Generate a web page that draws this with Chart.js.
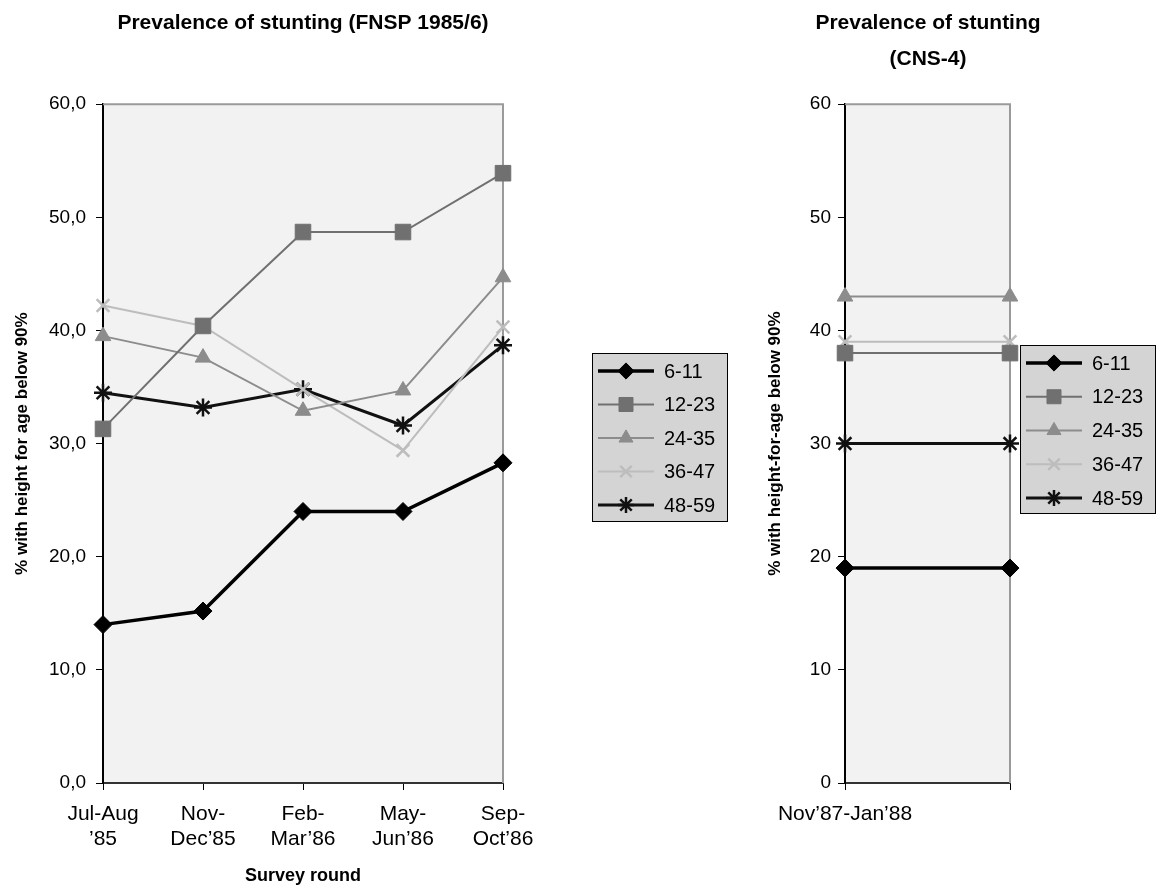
<!DOCTYPE html>
<html>
<head>
<meta charset="utf-8">
<script src="https://cdn.jsdelivr.net/npm/chart.js@4.4.1/dist/chart.umd.min.js"></script>
<style>
  body { margin: 0; background: #fff; }
  #wrap { position: relative; width: 1156px; height: 888px; }
  #leftChart { position: absolute; left: 0; top: 0; }
  #rightChart { position: absolute; left: 700px; top: 0; }
</style>
</head>
<body>
<div id="wrap">
  <canvas id="leftChart" width="740" height="888"></canvas>
  <canvas id="rightChart" width="456" height="888"></canvas>
</div>
<script>
// age groups (months)
const ageGroups = ['6-11', '12-23', '24-35', '36-47', '48-59'];

// FNSP 1985/6 survey rounds
const roundLabels = [['Jul-Aug', '’85'], ['Nov-', 'Dec’85'], ['Feb-', 'Mar’86'], ['May-', 'Jun’86'], ['Sep-', 'Oct’86']];
const fnsp_6_11  = [14.0, 15.2, 24.0, 24.0, 28.3];
const fnsp_12_23 = [31.3, 40.4, 48.7, 48.7, 53.9];
const fnsp_24_35 = [39.5, 37.6, 32.9, 34.7, 44.7];
const fnsp_36_47 = [42.2, 40.4, 34.8, 29.4, 40.3];
const fnsp_48_59 = [34.5, 33.2, 34.8, 31.6, 38.7];

// CNS-4 (single round, drawn as flat line)
const cnsLabels = ['Nov’87-Jan’88', ''];
const cns_6_11  = [19, 19];
const cns_12_23 = [38, 38];
const cns_24_35 = [43, 43];
const cns_36_47 = [39, 39];
const cns_48_59 = [30, 30];

const yTicks = [0, 10, 20, 30, 40, 50, 60];

Chart.defaults.font.family = '"Liberation Sans", Arial, sans-serif';
Chart.defaults.color = '#000';

const seriesStyle = [
    { color: '#000000', width: 3.5, point: 'rectRot', radius: 9, pw: 1 },
    { color: '#707070', width: 2, point: 'rect', radius: 11, pw: 1 },
    { color: '#8c8c8c', width: 2, point: 'triangle', radius: 9, pw: 1 },
    { color: '#bdbdbd', width: 2, point: 'crossRot', radius: 9, pw: 2.5 },
    { color: '#111111', width: 3, point: 'star', radius: 9, pw: 2.5 }
];

function make_datasets(series) {
    return series.map((vals, i) => {
        let s = seriesStyle[i];
        return {
            label: ageGroups[i],
            data: vals,
            yAxisID: 'y',
            borderColor: s.color,
            borderWidth: s.width,
            pointStyle: s.point,
            pointRadius: s.radius,
            pointBorderWidth: s.pw,
            pointBackgroundColor: s.color,
            pointBorderColor: s.color,
            tension: 0,
            clip: false
        };
    });
}

const plotFrame = {
    id: 'plotFrame',
    beforeDraw(chart) {
        const { ctx, chartArea: a } = chart;
        ctx.save();
        ctx.fillStyle = '#f2f2f2';
        ctx.fillRect(a.left, a.top, a.width, a.height);
        ctx.restore();
    },
    beforeDatasetsDraw(chart) {
        const { ctx, chartArea: a } = chart;
        ctx.save();
        ctx.strokeStyle = '#9a9a9a';
        ctx.lineWidth = 2;
        ctx.beginPath();
        ctx.moveTo(a.left, a.top);
        ctx.lineTo(a.right, a.top);
        ctx.lineTo(a.right, a.bottom);
        ctx.stroke();
        ctx.restore();
    }
};

const legendBox = {
    id: 'legendBox',
    afterDraw(chart, args, opts) {
        const ctx = chart.ctx;
        ctx.save();
        ctx.fillStyle = '#d4d4d4';
        ctx.fillRect(opts.x, opts.y, opts.w, opts.h);
        ctx.strokeStyle = '#000';
        ctx.lineWidth = 1;
        ctx.strokeRect(opts.x + 0.5, opts.y + 0.5, opts.w, opts.h);
        chart.data.datasets.forEach((ds, i) => {
            let y = opts.y + opts.first + i * opts.step;
            ctx.strokeStyle = ds.borderColor;
            ctx.lineWidth = ds.borderWidth;
            ctx.beginPath();
            ctx.moveTo(opts.x + 6, y);
            ctx.lineTo(opts.x + 62, y);
            ctx.stroke();
            ctx.fillStyle = ds.pointBackgroundColor;
            ctx.strokeStyle = ds.pointBorderColor;
            ctx.lineWidth = ds.pointBorderWidth;
            Chart.helpers.drawPoint(ctx, {
                pointStyle: ds.pointStyle,
                radius: ds.pointRadius * 0.9,
                borderWidth: ds.pointBorderWidth,
                rotation: 0
            }, opts.x + 34, y);
            ctx.fillStyle = '#000';
            ctx.font = '20px "Liberation Sans", Arial, sans-serif';
            ctx.textBaseline = 'middle';
            ctx.fillText(ds.label, opts.x + 72, y + 1);
        });
        ctx.restore();
    }
};

function line_chart(id, labels, series, cfg) {
    const ctx = document.getElementById(id).getContext('2d');
    let scales = {
        x: {
            offset: false,
            afterFit: (scale) => { scale.height = 105; },
            grid: { drawOnChartArea: false, drawTicks: true, tickLength: 7, color: '#000' },
            border: { display: true, color: '#333', width: 2 },
            ticks: {
                autoSkip: false, maxRotation: 0, padding: 12,
                font: { size: 21, lineHeight: 1.19 }, color: '#000'
            },
            title: cfg.xTitle ? {
                display: true, text: cfg.xTitle,
                font: { size: 18, weight: 'bold' },
                padding: { top: 0, bottom: 1 }
            } : { display: false }
        },
        y: {
            min: 0, max: 60,
            afterFit: (scale) => { scale.width = cfg.yWidth; },
            afterBuildTicks: (scale) => { scale.ticks = yTicks.map(v => ({ value: v })); },
            grid: { drawOnChartArea: false, drawTicks: true, tickLength: 7, color: '#000' },
            border: { display: true, color: '#000', width: 2 },
            ticks: {
                padding: cfg.yPad,
                font: { size: 19 }, color: '#000',
                callback: cfg.yFormat
            },
            title: {
                display: true, text: cfg.yTitle,
                font: { size: 17, weight: 'bold' },
                padding: { top: cfg.yTitleTop, bottom: 0 }
            }
        }
    };
    if (cfg.spaceRight) {
        // empty right-hand axis only reserves room for the legend
        scales.space = {
            type: 'linear', position: 'right', display: true,
            afterFit: (scale) => { scale.width = cfg.spaceRight; },
            grid: { display: false }, border: { display: false },
            ticks: { display: false }
        };
    }
    return new Chart(ctx, {
        type: 'line',
        data: { labels: labels, datasets: make_datasets(series) },
        plugins: [plotFrame, legendBox],
        options: {
            responsive: false,
            animation: false,
            devicePixelRatio: 1,
            layout: { padding: { left: 0, right: cfg.padRight, top: 0, bottom: 0 } },
            plugins: {
                legend: { display: false },
                tooltip: { enabled: false },
                title: {
                    display: true,
                    text: cfg.title,
                    fullSize: cfg.titleFull,
                    font: { size: 21, weight: 'bold', lineHeight: cfg.titleLH },
                    color: '#000',
                    padding: { top: cfg.titleTop, bottom: cfg.titleBottom }
                },
                legendBox: cfg.legend
            },
            scales: scales
        }
    });
}

window.onload = () => {
    line_chart('leftChart', roundLabels,
        [fnsp_6_11, fnsp_12_23, fnsp_24_35, fnsp_36_47, fnsp_48_59], {
            title: 'Prevalence of stunting (FNSP 1985/6)',
            titleFull: false,
            titleLH: 1.2, titleTop: 11, titleBottom: 68,
            padRight: 237, spaceRight: 0, yWidth: 103, yPad: 10, yTitleTop: 12,
            yTitle: '% with height for age below 90%',
            xTitle: 'Survey round',
            yFormat: (v) => v.toFixed(1).replace('.', ','),
            legend: { x: 592, y: 353, w: 135, h: 168, first: 18, step: 33.5 }
        });
    line_chart('rightChart', cnsLabels,
        [cns_6_11, cns_12_23, cns_24_35, cns_36_47, cns_48_59], {
            title: ['Prevalence of stunting', '(CNS-4)'],
            titleFull: true,
            titleLH: 1.72, titleTop: 5, titleBottom: 27,
            padRight: 0, spaceRight: 146, yWidth: 145, yPad: 7, yTitleTop: 65,
            yTitle: '% with height-for-age below 90%',
            xTitle: null,
            yFormat: (v) => String(v),
            legend: { x: 320, y: 345, w: 135, h: 168, first: 18, step: 33.75 }
        });
}
</script>
</body>
</html>
